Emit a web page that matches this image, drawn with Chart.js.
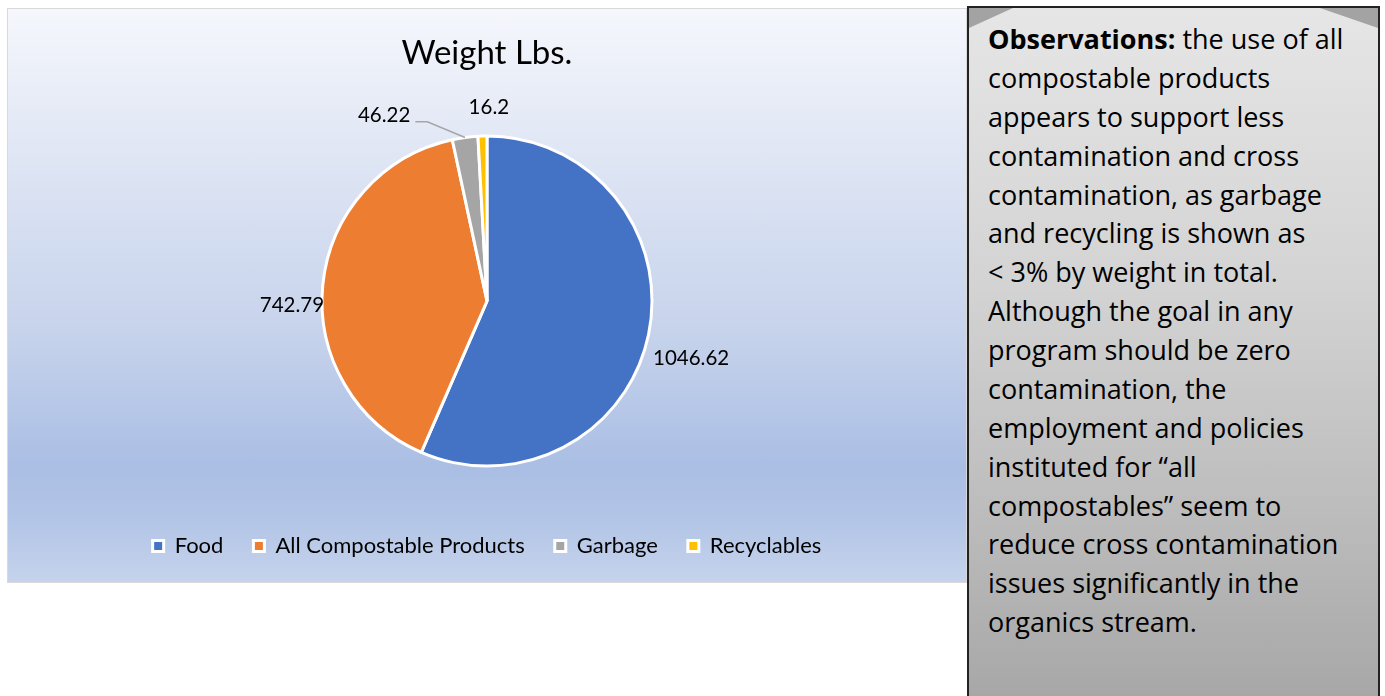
<!DOCTYPE html>
<html>
<head>
<meta charset="utf-8">
<script src="https://cdn.jsdelivr.net/npm/chart.js@4.4.1/dist/chart.umd.min.js"></script>
<style>
  html, body { margin: 0; padding: 0; background: #fff; width: 1385px; height: 696px; overflow: hidden; }
  #chartPanel {
    position: absolute; left: 7px; top: 8px; width: 958px; height: 573px;
    border: 1px solid #d9d9d9;
    background: linear-gradient(to bottom, #f5f7fc 0%, #e2e8f5 22%, #c8d4ec 55%, #aabee4 80%, #b4c6e7 90%, #c5d3ec 100%);
  }
  #notes {
    position: absolute; left: 967px; top: 6px; width: 409px; height: 700px;
    border: 2px solid #222;
    background: linear-gradient(to bottom, #e6e6e6 0%, #d3d3d3 40%, #bababa 75%, #a6a6a6 100%);
    font-family: "Open Sans", "Noto Sans", sans-serif; font-size: 27px; line-height: 38.87px; color: #000;
    box-sizing: content-box; white-space: nowrap;
  }
  #notes .txt { position: absolute; left: 19px; top: 12px; }
  .corner { position: absolute; top: 0; width: 44px; height: 20px; background: #a3a3a3; }
  .corner.l { left: 0; clip-path: polygon(0 0, 100% 0, 0 100%); }
  .corner.r { right: 0; width: 58px; clip-path: polygon(0 0, 100% 0, 100% 100%); }
</style>
</head>
<body>
<div id="chartPanel"><canvas id="weightChart" width="958" height="573"></canvas></div>
<div id="notes">
  <div class="corner l"></div><div class="corner r"></div>
  <div class="txt"><b>Observations:</b> the use of all<br>compostable products<br>appears to support less<br>contamination and cross<br>contamination, as garbage<br>and recycling is shown as<br>&lt; 3% by weight in total.<br>Although the goal in any<br>program should be zero<br>contamination, the<br>employment and policies<br>instituted for “all<br>compostables” seem to<br>reduce cross contamination<br>issues significantly in the<br>organics stream.</div>
</div>
<script>
// chart data
const categories = ['Food', 'All Compostable Products', 'Garbage', 'Recyclables'];
const weights = [1046.62, 742.79, 46.22, 16.2];
const sliceColors = ['#4472C4', '#ED7D31', '#A5A5A5', '#FFC000'];

// small nudges so labels sit where the original put them
const labelNudge = [[21, 19], [-9, 23], [-78, 0], [7, -7]];
const leaderLine = [false, false, true, false];

const valueLabels = {
    id: 'valueLabels',
    afterDatasetsDraw(chart) {
        const ctx = chart.ctx;
        const meta = chart.getDatasetMeta(0);
        ctx.save();
        ctx.font = '20.5px Lato';
        ctx.fillStyle = '#000';
        ctx.textAlign = 'center';
        ctx.textBaseline = 'middle';
        meta.data.forEach((arc, i) => {
            const p = arc.getProps(['x', 'y', 'startAngle', 'endAngle', 'outerRadius'], true);
            const mid = (p.startAngle + p.endAngle) / 2;
            const r = p.outerRadius + 22;
            const lx = p.x + Math.cos(mid) * r + labelNudge[i][0];
            const ly = p.y + Math.sin(mid) * r + labelNudge[i][1];
            const text = String(weights[i]);
            if (leaderLine[i]) {
                const right = lx + ctx.measureText(text).width / 2;
                ctx.strokeStyle = '#a6a6a6';
                ctx.lineWidth = 1.5;
                ctx.beginPath();
                ctx.moveTo(right + 5, ly + 6);
                ctx.lineTo(right + 17, ly + 6);
                ctx.lineTo(p.x + Math.cos(mid) * p.outerRadius, p.y + Math.sin(mid) * p.outerRadius);
                ctx.stroke();
            }
            ctx.fillText(text, lx, ly);
        });
        ctx.restore();
    }
};

const ctx = document.getElementById('weightChart').getContext('2d');
new Chart(ctx, {
    type: 'pie',
    data: {
        labels: categories,
        datasets: [{
            data: weights,
            backgroundColor: sliceColors,
            borderColor: '#ffffff',
            borderWidth: 3,
        }]
    },
    options: {
        responsive: false,
        animation: false,
        radius: 165,
        layout: { padding: { top: 0, bottom: 15, left: 0, right: 0 } },
        plugins: {
            title: {
                display: true,
                text: 'Weight Lbs.',
                color: '#000',
                font: { family: 'Lato', size: 33, weight: 'normal' },
                padding: { top: 25, bottom: 23.5 }
            },
            legend: {
                position: 'bottom',
                labels: {
                    boxWidth: 11,
                    boxHeight: 11,
                    padding: 30,
                    color: '#000',
                    font: { family: 'Lato', size: 22 }
                }
            },
            tooltip: { enabled: false }
        }
    },
    plugins: [valueLabels]
});
</script>
</body>
</html>
